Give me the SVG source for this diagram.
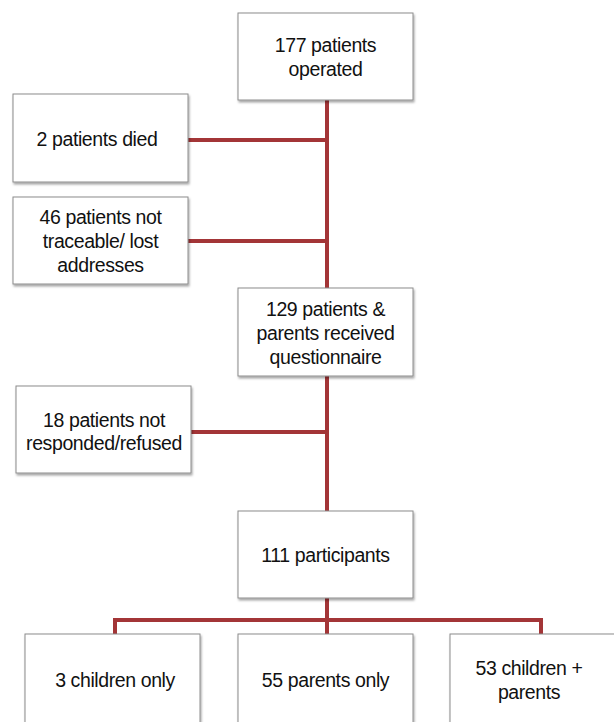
<svg xmlns="http://www.w3.org/2000/svg" width="614" height="722" viewBox="0 0 614 722">
<defs>
<filter id="sh" x="-5%" y="-5%" width="115%" height="120%">
<feDropShadow dx="1" dy="2" stdDeviation="1.2" flood-color="#000" flood-opacity="0.35"/>
</filter>
</defs>
<style>
.box{fill:#fff;stroke:#8c8c8c;stroke-width:1;filter:url(#sh)}
.t{font-family:"Liberation Sans",Arial,sans-serif;font-size:19.5px;fill:#111;text-anchor:middle;letter-spacing:-0.4px}
.c{stroke:#a33537;stroke-width:4;fill:none}
</style>
<rect width="614" height="722" fill="#fff"/>
<g id="connectors">
<path class="c" d="M327 100V511M327 598V634M188 140H327M188 241H327M191 432H327M115 634V620H541V634"/>
</g>
<g id="n1"><rect class="box" x="238" y="13" width="175" height="87"/><text class="t" x="325.5" y="52">177 patients</text><text class="t" x="325.5" y="76">operated</text></g>
<g id="n2"><rect class="box" x="13" y="94" width="175" height="88"/><text class="t" x="97" y="146">2 patients died</text></g>
<g id="n3"><rect class="box" x="13" y="197" width="175" height="87"/><text class="t" x="100.5" y="224">46 patients not</text><text class="t" x="100.5" y="248">traceable/ lost</text><text class="t" x="100.5" y="272">addresses</text></g>
<g id="n4"><rect class="box" x="238" y="288" width="175" height="88"/><text class="t" x="325.5" y="316">129 patients &amp;</text><text class="t" x="325.5" y="340">parents received</text><text class="t" x="325.5" y="364">questionnaire</text></g>
<g id="n5"><rect class="box" x="16" y="386" width="175" height="87"/><text class="t" x="104" y="427">18 patients not</text><text class="t" x="104" y="450">responded/refused</text></g>
<g id="n6"><rect class="box" x="238" y="511" width="175" height="87"/><text class="t" x="325.5" y="562">111 participants</text></g>
<g id="n7"><rect class="box" x="25" y="634" width="175" height="95"/><text class="t" x="115" y="687">3 children only</text></g>
<g id="n8"><rect class="box" x="238" y="634" width="175" height="95"/><text class="t" x="325.5" y="687">55 parents only</text></g>
<g id="n9"><rect class="box" x="450" y="634" width="175" height="95"/><text class="t" x="529" y="675">53 children +</text><text class="t" x="529" y="699">parents</text></g>
</svg>
